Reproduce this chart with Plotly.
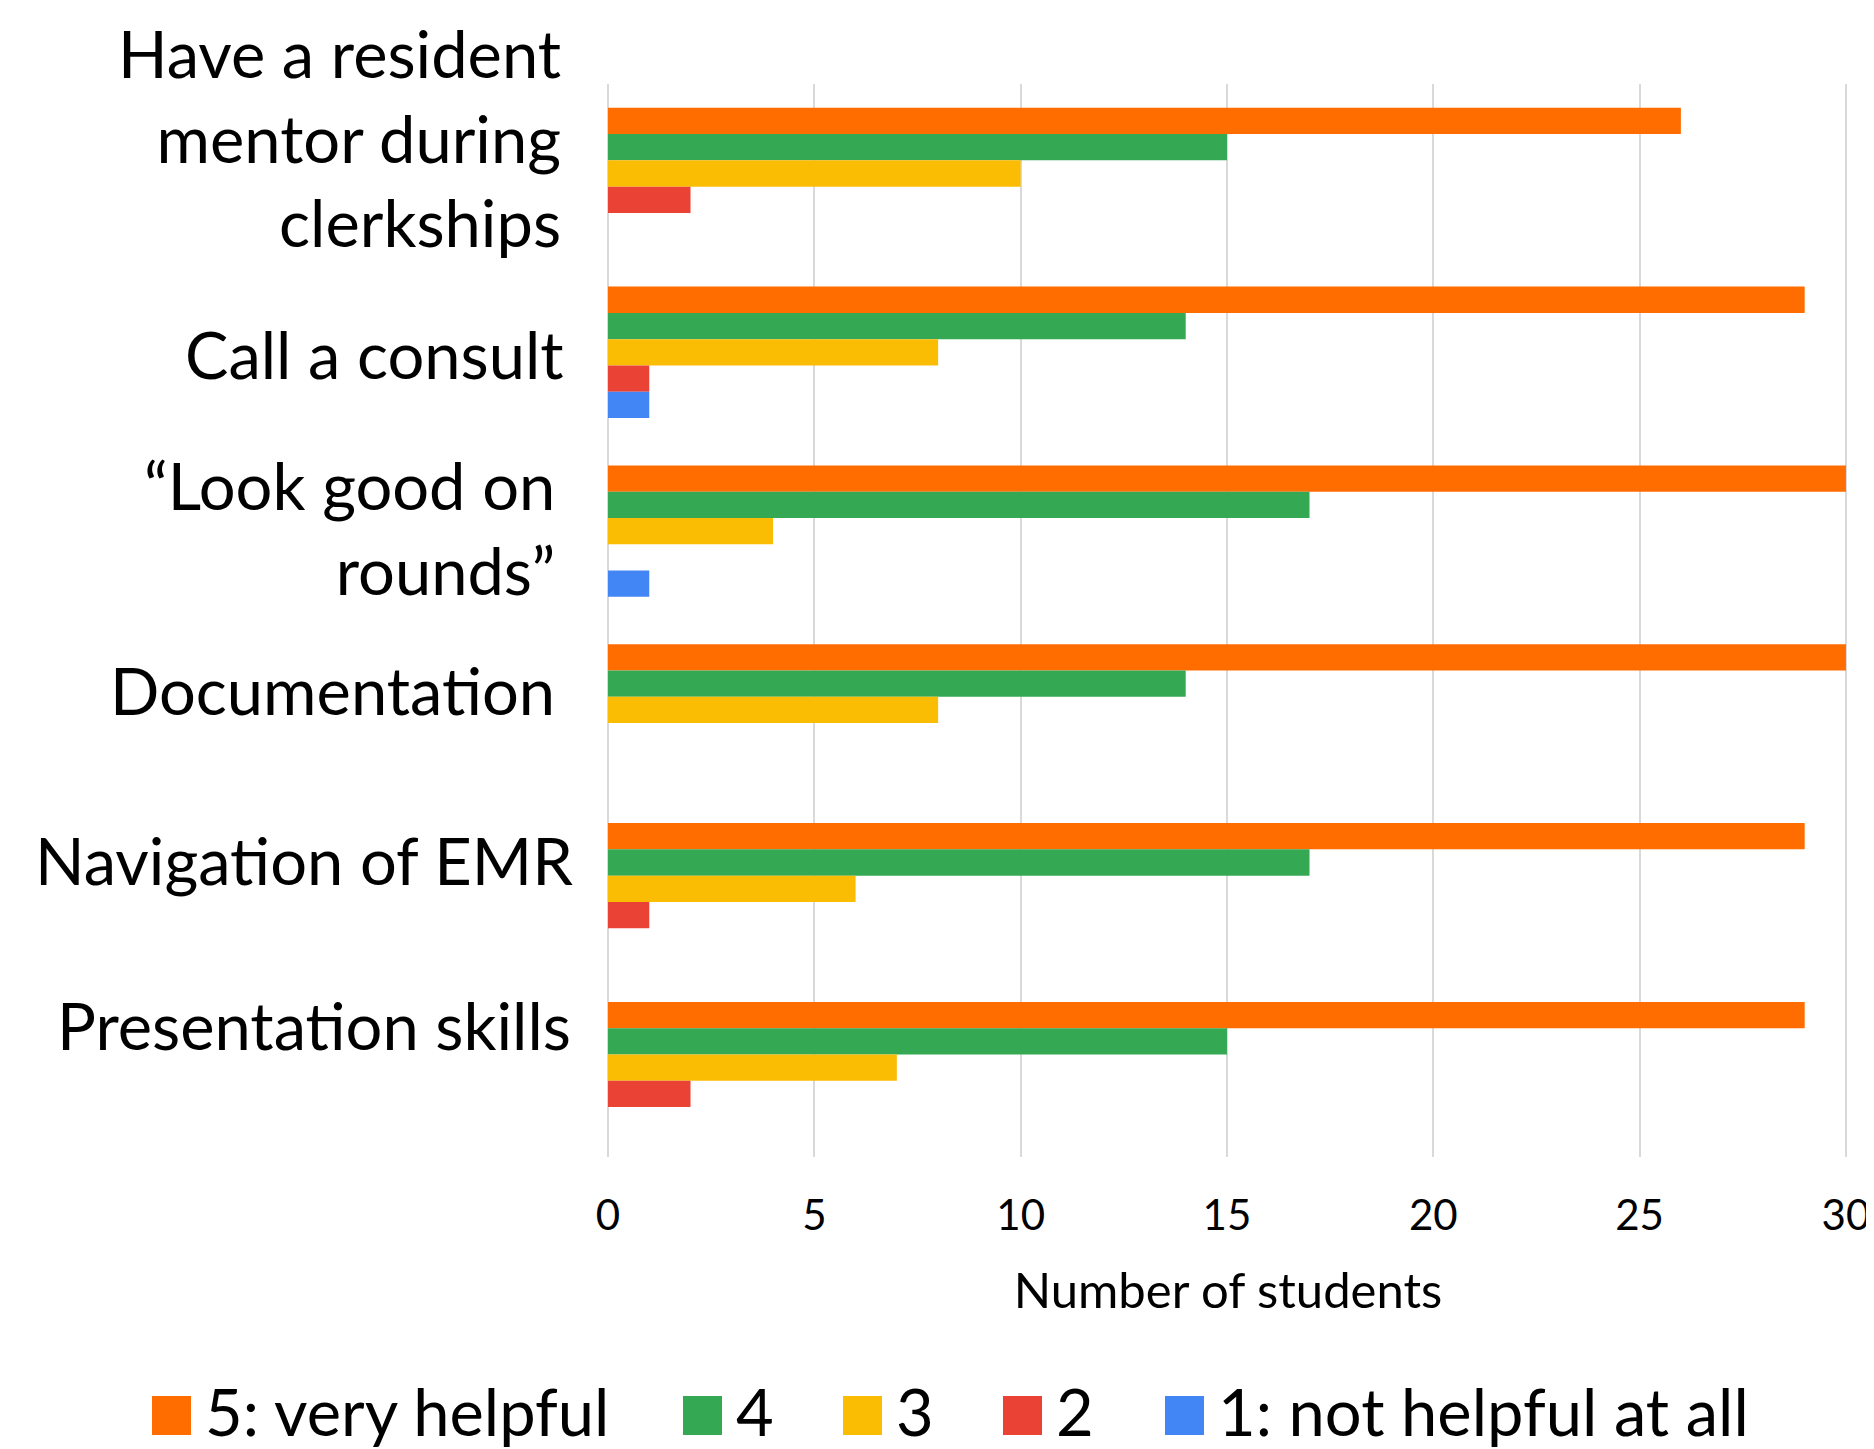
import plotly.graph_objects as go

categories = [
    "Have a resident<br>mentor during<br>clerkships",
    "Call a consult",
    "\u201cLook good on<br>rounds\u201d",
    "Documentation",
    "Navigation of EMR",
    "Presentation skills",
]
series_names = ["5: very helpful", "4", "3", "2", "1: not helpful at all"]
v5 = [26, 29, 30, 30, 29, 29]
v4 = [15, 14, 17, 14, 17, 15]
v3 = [10, 8, 4, 8, 6, 7]
v2 = [2, 1, 0, 0, 1, 2]
v1 = [0, 1, 1, 0, 0, 0]
colors = ["#FF6D01", "#34A853", "#FBBC04", "#EA4335", "#4285F4"]
x_ticks = [0, 5, 10, 15, 20, 25, 30]

# ---- layout constants (pixels) ----
FONT = "Lato"
W, H = 1874, 1449
L, R, T, B = 600, 34, 76, 300
PW, PH = W - L - R, H - T - B
# category label placement (offsets from the tick position, pixels)
label_xshift = [-45, -42, -51, -51, -33, -35]
label_yshift = [36, -2, 4, 20, 29, 43]
# manual legend placement (figure pixels)
leg_sym_left = [144, 675, 835, 995, 1157]
leg_sym_w, leg_sym_top, leg_sym_bot = 39, 1388, 1427
leg_text_gap = 12
leg_text_mid = 1403


def px_x(px):
    return (px - L) / PW


def px_y(py):
    return 1 - (py - T) / PH


fig = go.Figure()
for name, vals, col in zip(series_names, [v5, v4, v3, v2, v1], colors):
    fig.add_trace(go.Bar(
        y=categories, x=vals, name=name, orientation="h",
        marker=dict(color=col, line=dict(width=0)),
        showlegend=False,
    ))

annotations = []
for cat, dx, dy in zip(categories, label_xshift, label_yshift):
    annotations.append(dict(
        text=cat, xref="paper", yref="y", x=0, y=cat,
        xanchor="right", yanchor="middle", align="right",
        xshift=dx, yshift=dy, showarrow=False,
        font=dict(size=65, family=FONT, color="black"),
    ))

shapes = []
for name, col, left in zip(series_names, colors, leg_sym_left):
    shapes.append(dict(
        type="rect", xref="paper", yref="paper",
        x0=px_x(left), x1=px_x(left + leg_sym_w),
        y0=px_y(leg_sym_bot), y1=px_y(leg_sym_top),
        fillcolor=col, line=dict(width=0), layer="above",
    ))
    annotations.append(dict(
        text=name, xref="paper", yref="paper",
        x=px_x(left + leg_sym_w + leg_text_gap), y=px_y(leg_text_mid),
        xanchor="left", yanchor="middle", showarrow=False,
        font=dict(size=65, family=FONT, color="black"),
    ))

fig.update_layout(
    width=W, height=H,
    paper_bgcolor="white", plot_bgcolor="white",
    barmode="group", bargap=0.265, bargroupgap=0,
    margin=dict(l=L, r=R, t=T, b=B, autoexpand=False),
    font=dict(family=FONT, color="black"),
    xaxis=dict(
        range=[0, 30.05], tickvals=x_ticks, ticktext=[str(t) for t in x_ticks],
        showgrid=True, gridcolor="#D9D9D9", gridwidth=2,
        zeroline=True, zerolinecolor="#D9D9D9", zerolinewidth=2,
        showline=False, tickfont=dict(size=42, family=FONT, color="black"),
        ticklabelstandoff=30,
        title=dict(text="Number of students", font=dict(size=49, family=FONT, color="black"), standoff=35),
    ),
    yaxis=dict(
        autorange="reversed", showgrid=False, showline=False, zeroline=False,
        showticklabels=False,
    ),
    annotations=annotations,
    shapes=shapes,
    showlegend=False,
)

fig.write_html("out.html")
